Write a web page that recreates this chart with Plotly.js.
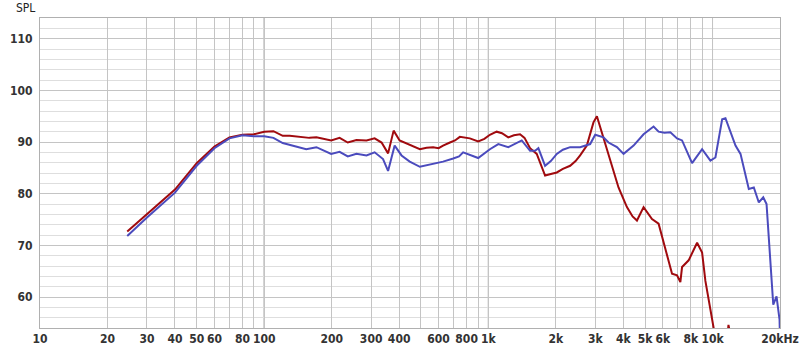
<!DOCTYPE html>
<html>
<head>
<meta charset="utf-8">
<script src="https://cdn.plot.ly/plotly-3.0.1.min.js"></script>
<style>
html,body{margin:0;padding:0;background:#fff;}
#chart{width:800px;height:352px;}
</style>
</head>
<body>
<div id="chart"></div>
<script>
// Frequency (Hz) and SPL (dB) values
const redFreq = [24.5,30,40,50,60,70,80,90,100,110,121,130,144,159,171,185,199,217,236,258,286,311,334,357,378,402,446,495,530,567,600,628,674,710,746,790,827,901,960,1016,1089,1150,1227,1300,1385,1450,1535,1644,1791,1900,2020,2150,2317,2450,2567,2750,2944,3050,3210,3436,3558,3807,4151,4400,4602,4926,5370,5747,6050,6598,6946,7187,7314,7827,8535,8985,9294,9786,10125,10500,11400,11780,12100,13000];
const redSPL  = [72.7,76.1,80.8,85.9,89.1,90.9,91.4,91.5,92.0,92.1,91.2,91.2,91.0,90.8,90.9,90.6,90.3,90.8,89.9,90.4,90.3,90.7,89.9,87.8,92.2,90.3,89.4,88.6,88.9,89.0,88.8,89.3,89.9,90.3,91.0,90.9,90.7,90.1,90.6,91.4,92.0,91.7,90.9,91.3,91.5,90.8,88.8,87.7,83.5,83.8,84.1,84.8,85.4,86.3,87.4,89.3,93.8,95.0,91.9,87.4,85.7,81.2,77.4,75.6,74.8,77.4,75.1,74.2,70.6,64.5,64.2,62.9,65.8,67.1,70.5,68.6,63.1,57.5,54.0,50.0,48.0,54.6,52.0,48.0];

const blueFreq = [24.5,30,40,50,60,70,80,90,100,110,121,134,154,171,199,217,236,258,286,311,339,357,382,410,446,495,530,567,628,697,740,772,840,901,1016,1108,1227,1409,1535,1616,1672,1791,1900,2020,2150,2317,2567,2846,2997,3264,3436,3746,4011,4444,4926,5458,5747,6100,6484,6946,7314,8106,8985,9786,10304,11041,11421,12023,12663,13331,14516,15285,16090,16838,17418,18664,19300,19908,20000];
const blueSPL  = [71.8,75.4,80.2,85.4,88.8,90.7,91.3,91.1,91.1,90.8,89.8,89.3,88.6,89.0,87.7,88.1,87.2,87.7,87.4,88.0,86.7,84.4,89.3,87.4,86.2,85.2,85.5,85.7,86.2,86.8,87.2,88.0,87.4,86.9,88.6,89.6,89.0,90.3,88.3,88.3,88.8,85.4,86.3,87.7,88.5,89.0,89.0,89.6,91.4,90.9,89.9,89.0,87.7,89.3,91.5,93.0,92.0,91.8,91.9,90.7,90.3,85.9,88.6,86.4,87.0,94.4,94.6,91.9,89.3,87.7,80.9,81.2,78.3,79.3,78.0,58.5,60.1,55.6,52.0];

const xGridVals = [10,20,30,40,50,60,70,80,90,100,200,300,400,500,600,700,800,900,1000,2000,3000,4000,5000,6000,7000,8000,9000,10000,20000];
const xGridText = ['10','20','30','40','50','60','','80','','100','200','300','400','','600','','800','','1k','2k','3k','4k','5k','6k','','8k','','10k','20kHz'];
const decadeLines = [100,1000,10000];
const yTickVals = [60,70,80,90,100,110];

const tickFont = {family:'"DejaVu Sans Condensed", "DejaVu Sans", sans-serif', size:12, color:'#333', weight:'bold'};

const traces = [
  {x: redFreq, y: redSPL, type:'scatter', mode:'lines', line:{color:'#a00a0e', width:2}, hoverinfo:'skip'},
  {x: blueFreq, y: blueSPL, type:'scatter', mode:'lines', line:{color:'#4b4bbd', width:2}, hoverinfo:'skip'}
];

const shapes = decadeLines.map(f => ({
  type:'line', xref:'x', yref:'paper', x0:f, x1:f, y0:0, y1:1,
  line:{color:'#808080', width:1}, layer:'below'
}));

const layout = {
  width:800, height:352,
  margin:{l:40, r:20, t:18, b:24},
  paper_bgcolor:'#fff', plot_bgcolor:'#fff',
  showlegend:false,
  xaxis:{
    type:'log', range:[1, Math.log10(20000)],
    tickvals:xGridVals, ticktext:xGridText,
    showgrid:true, gridcolor:'#c4c4c4', gridwidth:1,
    showline:true, linecolor:'#b0b0b0', linewidth:1, mirror:true,
    ticks:'', tickfont:tickFont, zeroline:false, fixedrange:true
  },
  yaxis:{
    range:[54, 114],
    tickvals:yTickVals,
    showgrid:true, gridcolor:'#c4c4c4', gridwidth:1,
    minor:{dtick:2, tick0:54, showgrid:true, gridcolor:'#dedede', gridwidth:1, ticks:''},
    showline:true, linecolor:'#b0b0b0', linewidth:1, mirror:true,
    ticks:'', tickfont:tickFont, zeroline:false, fixedrange:true, ticklabelstandoff:4
  },
  shapes: shapes,
  annotations:[{
    text:'SPL', xref:'paper', yref:'paper', x:-0.004, y:1, xanchor:'right', yanchor:'bottom',
    yshift:1, showarrow:false,
    font:{family:'"DejaVu Sans Condensed", "DejaVu Sans", sans-serif', size:12, color:'#222'}
  }]
};

Plotly.newPlot('chart', traces, layout, {staticPlot:true, displayModeBar:false});
</script>
</body>
</html>
